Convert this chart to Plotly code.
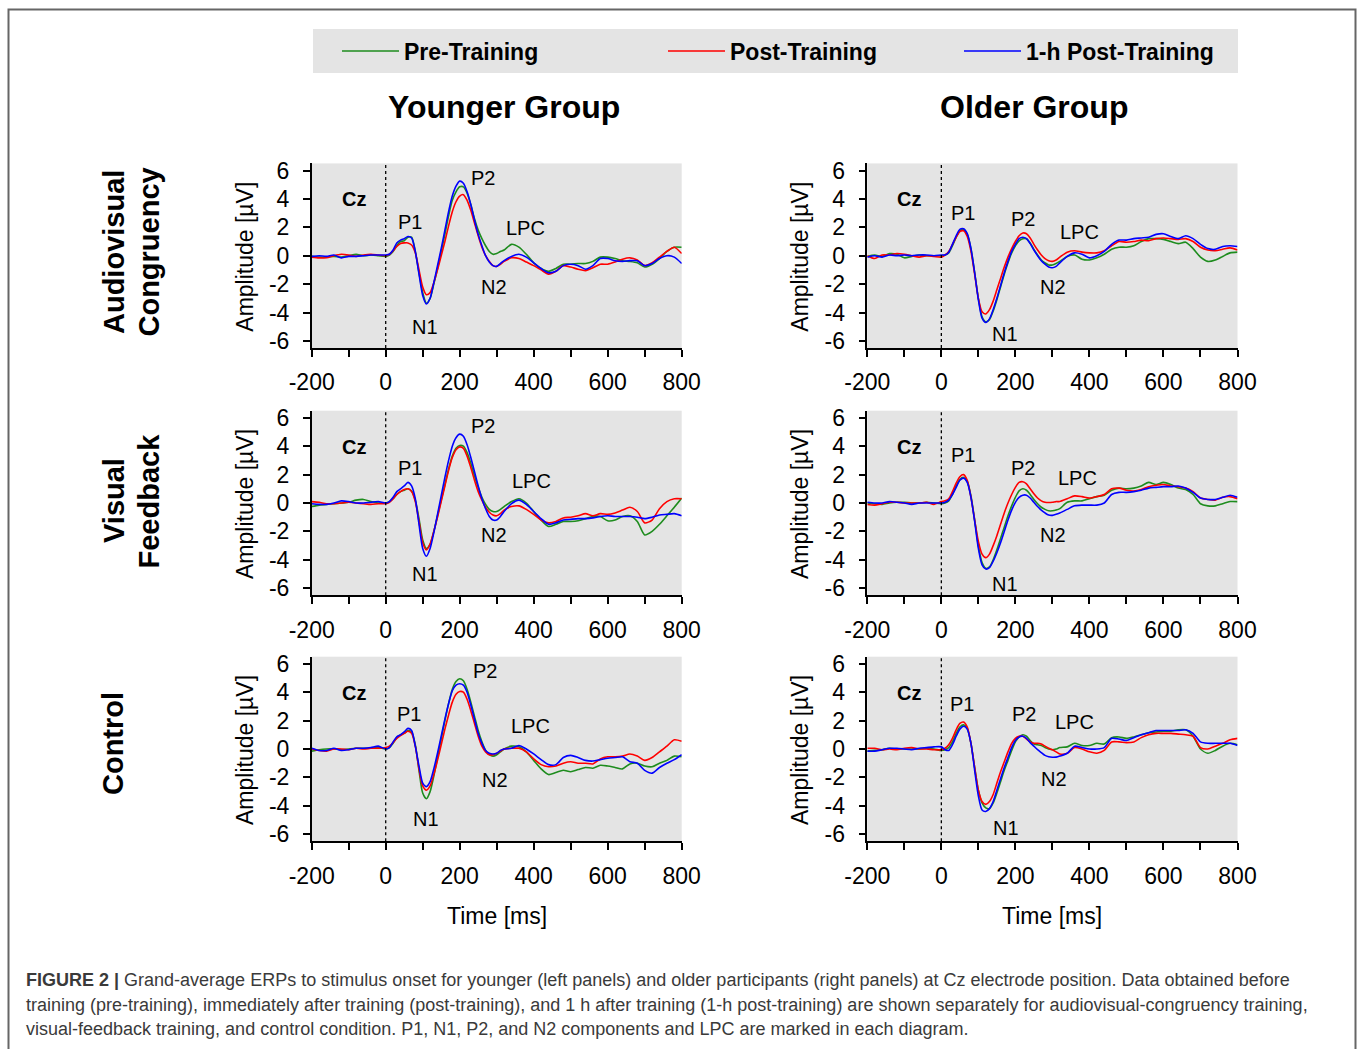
import plotly.graph_objects as go
from plotly.subplots import make_subplots

W, H = 1357, 1049
FONT = "Liberation Sans, Arial, sans-serif"

# ---------------- data ----------------
time_ms = [-200, -180, -160, -140, -120, -100, -80, -60, -40, -20,
           0, 10, 20, 30, 40, 50, 60, 70, 80, 90, 100, 110, 120, 130, 140, 150, 160,
           170, 180, 190, 200, 210, 220, 230, 240, 250, 260, 270, 280, 290, 300, 310, 320,
           340, 360, 380, 400, 420, 440, 460, 480, 500, 520, 540, 560, 580, 600, 620, 640,
           660, 680, 700, 720, 740, 760, 780, 800]

series_names = ["Pre-Training", "Post-Training", "1-h Post-Training"]
series_colors = ["#1e8c1e", "#ff0000", "#0000ff"]

younger_av_pre = [-0.05, -0.1, -0.1, -0.05, -0.1, 0.0, 0.1, 0.0, 0.05, 0.0,
                  -0.05, 0.05, 0.3, 0.7, 1.0, 1.05, 1.3, 1.3, 0.3, -1.2, -2.6, -3.35, -3.0, -2.0, -0.9, 0.3, 1.5,
                  2.8, 3.9, 4.5, 4.85, 4.85, 4.4, 3.6, 2.6, 1.8, 1.2, 0.7, 0.3, 0.1, 0.15, 0.3, 0.4,
                  0.8, 0.6, 0.1, -0.5, -0.9, -1.1, -0.9, -0.6, -0.6, -0.55, -0.55, -0.4, -0.1, -0.1, -0.2, -0.35,
                  -0.4, -0.5, -0.8, -0.6, -0.2, 0.3, 0.6, 0.6]
younger_av_post = [-0.1, -0.15, -0.15, 0.0, 0.1, 0.05, -0.05, 0.05, 0.1, 0.05,
                   0.0, 0.1, 0.35, 0.65, 0.85, 0.9, 0.9, 0.75, 0.2, -1.0, -2.2, -2.75, -2.6, -1.9, -1.0, 0.0, 1.0,
                   2.1, 3.1, 3.8, 4.2, 4.3, 3.9, 3.2, 2.3, 1.4, 0.6, 0.0, -0.4, -0.7, -0.75, -0.6, -0.4,
                   -0.15, -0.2, -0.45, -0.7, -1.0, -1.3, -1.1, -0.7, -0.8, -0.95, -1.05, -0.85, -0.6, -0.6, -0.45, -0.25,
                   -0.15, -0.3, -0.7, -0.5, -0.1, 0.3, 0.6, 0.15]
younger_av_1h = [-0.05, 0.0, -0.05, 0.05, -0.15, -0.05, -0.05, 0.0, 0.05, 0.05,
                 0.05, 0.1, 0.4, 0.9, 1.1, 1.2, 1.35, 1.25, 0.3, -1.3, -2.8, -3.4, -3.0, -1.9, -0.7, 0.5, 1.8,
                 3.1, 4.2, 4.9, 5.25, 5.1, 4.5, 3.6, 2.5, 1.5, 0.7, 0.0, -0.45, -0.7, -0.75, -0.55, -0.35,
                 -0.05, 0.1, -0.1, -0.5, -0.9, -1.2, -1.1, -0.7, -0.6, -0.7, -0.95, -0.7, -0.2, -0.2, -0.35, -0.4,
                 -0.35, -0.35, -0.7, -0.55, -0.2, 0.0, -0.1, -0.55]

older_av_pre = [-0.05, 0.05, -0.05, 0.15, 0.1, -0.15, -0.05, 0.05, 0.0, 0.0,
                0.0, 0.05, 0.2, 0.7, 1.3, 1.75, 1.85, 1.5, 0.5, -1.2, -3.0, -4.3, -4.65, -4.5, -3.9, -3.1, -2.2,
                -1.3, -0.5, 0.2, 0.7, 1.05, 1.2, 1.2, 0.9, 0.45, 0.05, -0.3, -0.5, -0.65, -0.65, -0.55, -0.4,
                -0.05, 0.05, -0.25, -0.3, -0.15, 0.1, 0.45, 0.6, 0.6, 0.7, 1.0, 1.2, 1.2, 1.15, 1.0, 0.85,
                0.95, 0.5, -0.1, -0.4, -0.3, -0.05, 0.2, 0.25]
older_av_post = [0.0, -0.2, 0.05, 0.05, 0.15, 0.1, 0.0, -0.1, 0.0, -0.05,
                 -0.1, 0.05, 0.3, 0.8, 1.3, 1.7, 1.75, 1.35, 0.3, -1.3, -3.0, -3.95, -4.1, -3.8, -3.2, -2.4, -1.6,
                 -0.8, -0.1, 0.5, 1.0, 1.4, 1.6, 1.55, 1.25, 0.8, 0.4, 0.05, -0.2, -0.35, -0.4, -0.3, -0.1,
                 0.25, 0.35, 0.25, 0.2, 0.2, 0.35, 0.7, 1.0, 0.95, 1.0, 1.1, 1.05, 1.2, 1.25, 1.2, 1.15,
                 1.2, 1.0, 0.6, 0.4, 0.35, 0.45, 0.55, 0.4]
older_av_1h = [-0.1, 0.0, -0.1, 0.05, 0.0, 0.05, 0.0, 0.05, 0.05, 0.0,
               0.05, 0.05, 0.25, 0.8, 1.4, 1.85, 1.9, 1.55, 0.5, -1.2, -3.1, -4.4, -4.7, -4.45, -3.8, -3.0, -2.1,
               -1.2, -0.4, 0.3, 0.8, 1.2, 1.3, 1.2, 0.85, 0.4, 0.0, -0.35, -0.6, -0.8, -0.85, -0.75, -0.5,
               -0.05, 0.2, 0.1, -0.15, 0.0, 0.3, 0.8, 1.1, 1.1, 1.2, 1.25, 1.3, 1.5, 1.55, 1.35, 1.2,
               1.4, 1.2, 0.8, 0.5, 0.45, 0.65, 0.7, 0.65]

younger_vf_pre = [-0.25, -0.15, -0.1, -0.05, 0.0, 0.05, 0.2, 0.25, 0.1, 0.0,
                  0.0, 0.1, 0.3, 0.6, 0.8, 0.9, 1.0, 0.85, 0.2, -1.1, -2.6, -3.2, -2.9, -2.0, -0.9, 0.2, 1.3,
                  2.4, 3.3, 3.85, 4.05, 4.0, 3.55, 2.8, 1.9, 1.1, 0.4, -0.1, -0.45, -0.6, -0.6, -0.45, -0.25,
                  0.1, 0.3, 0.0, -0.6, -1.2, -1.65, -1.5, -1.3, -1.3, -1.25, -1.1, -0.95, -0.95, -1.25, -1.2, -0.95,
                  -0.9, -1.3, -2.25, -2.0, -1.5, -0.9, -0.3, 0.35]
younger_vf_post = [0.1, 0.05, -0.05, -0.05, 0.0, 0.05, 0.0, -0.05, -0.1, -0.05,
                   -0.05, 0.05, 0.3, 0.6, 0.8, 0.95, 1.0, 0.8, 0.1, -1.3, -2.8, -3.3, -2.9, -2.0, -1.0, 0.1, 1.2,
                   2.3, 3.2, 3.75, 3.95, 3.85, 3.3, 2.5, 1.6, 0.8, 0.2, -0.3, -0.65, -0.85, -0.9, -0.75, -0.5,
                   -0.25, -0.2, -0.45, -0.8, -1.2, -1.4, -1.3, -1.05, -1.0, -0.9, -0.75, -0.9, -0.75, -0.8, -0.7, -0.5,
                   -0.3, -0.6, -1.4, -1.2, -0.4, 0.1, 0.3, 0.3]
younger_vf_1h = [-0.05, -0.1, -0.1, 0.0, 0.15, 0.1, 0.0, 0.0, 0.05, 0.1,
                 0.0, 0.1, 0.4, 0.8, 1.0, 1.2, 1.45, 1.2, 0.3, -1.5, -3.2, -3.75, -3.2, -2.1, -0.8, 0.5, 1.8,
                 3.0, 4.0, 4.6, 4.85, 4.7, 4.1, 3.2, 2.2, 1.2, 0.3, -0.4, -0.95, -1.2, -1.2, -0.95, -0.6,
                 -0.05, 0.2, -0.1, -0.6, -1.1, -1.5, -1.4, -1.2, -1.15, -1.1, -1.1, -1.05, -0.95, -0.9, -0.95, -0.95,
                 -0.95, -1.0, -1.1, -1.0, -0.85, -0.8, -0.75, -0.9]

older_vf_pre = [0.0, -0.05, -0.1, 0.0, 0.05, 0.05, 0.0, 0.0, 0.05, 0.0,
                -0.05, 0.0, 0.15, 0.6, 1.2, 1.65, 1.8, 1.5, 0.5, -1.2, -3.0, -4.2, -4.6, -4.5, -4.0, -3.3, -2.5,
                -1.7, -0.9, -0.2, 0.4, 0.85, 1.0, 0.9, 0.6, 0.25, -0.05, -0.3, -0.45, -0.55, -0.55, -0.5, -0.4,
                0.05, 0.15, 0.15, 0.3, 0.45, 0.55, 0.9, 1.05, 1.0, 1.05, 1.2, 1.45, 1.3, 1.45, 1.3, 1.05,
                0.95, 0.6, -0.05, -0.2, -0.2, -0.05, 0.1, 0.1]
older_vf_post = [-0.1, -0.15, -0.05, 0.05, 0.05, 0.0, 0.0, 0.0, 0.05, -0.1,
                 0.1, 0.15, 0.3, 0.8, 1.4, 1.85, 2.0, 1.6, 0.4, -1.2, -2.7, -3.6, -3.85, -3.6, -3.0, -2.3, -1.5,
                 -0.7, 0.0, 0.6, 1.1, 1.45, 1.5, 1.35, 1.0, 0.65, 0.35, 0.15, 0.05, 0.03, 0.05, 0.1, 0.1,
                 0.3, 0.5, 0.45, 0.35, 0.45, 0.6, 1.0, 1.05, 0.9, 0.85, 0.95, 1.15, 1.25, 1.3, 1.2, 1.15,
                 1.05, 0.8, 0.35, 0.25, 0.2, 0.4, 0.45, 0.3]
older_vf_1h = [0.05, 0.0, 0.0, 0.1, 0.05, 0.0, -0.1, 0.0, 0.0, 0.0,
               0.0, 0.05, 0.2, 0.6, 1.1, 1.6, 1.75, 1.45, 0.4, -1.3, -3.2, -4.35, -4.65, -4.55, -4.1, -3.5, -2.8,
               -2.0, -1.2, -0.5, 0.05, 0.4, 0.55, 0.55, 0.35, 0.05, -0.25, -0.5, -0.7, -0.85, -0.87, -0.8, -0.7,
               -0.45, -0.2, -0.15, -0.15, -0.15, 0.0, 0.6, 0.75, 0.75, 0.8, 0.9, 1.05, 1.1, 1.15, 1.15, 1.2,
               1.05, 0.75, 0.35, 0.25, 0.25, 0.4, 0.55, 0.4]

younger_ctrl_pre = [-0.15, -0.05, 0.0, 0.0, -0.05, 0.0, 0.05, 0.05, 0.05, 0.1,
                    0.0, 0.1, 0.4, 0.8, 1.0, 1.1, 1.3, 1.2, 0.3, -1.5, -3.1, -3.5, -3.0, -1.9, -0.6, 0.7, 2.0,
                    3.2, 4.2, 4.75, 4.95, 4.8, 4.2, 3.3, 2.3, 1.3, 0.5, -0.1, -0.4, -0.5, -0.4, -0.2, 0.0,
                    0.2, 0.15, -0.2, -0.8, -1.4, -1.8, -1.65, -1.5, -1.6, -1.45, -1.3, -1.35, -1.15, -1.2, -1.3, -1.4,
                    -1.05, -1.0, -1.2, -1.25, -1.0, -0.8, -0.5, -0.55]
younger_ctrl_post = [0.0, -0.1, -0.15, 0.0, 0.0, -0.05, 0.05, 0.0, 0.05, 0.05,
                     0.1, 0.2, 0.45, 0.75, 0.95, 1.1, 1.25, 1.1, 0.2, -1.4, -2.6, -2.9, -2.6, -1.8, -0.8, 0.3, 1.4,
                     2.4, 3.3, 3.85, 4.05, 4.0, 3.5, 2.7, 1.8, 0.9, 0.2, -0.2, -0.4, -0.4, -0.3, -0.15, 0.0,
                     0.05, 0.05, -0.2, -0.7, -1.1, -1.25, -1.2, -1.0, -0.9, -1.0, -1.0, -1.05, -0.7, -0.55, -0.55, -0.5,
                     -0.35, -0.5, -0.8, -0.6, -0.2, 0.2, 0.65, 0.55]
younger_ctrl_1h = [0.05, -0.1, -0.1, 0.05, -0.1, -0.05, 0.05, 0.05, 0.1, 0.2,
                   0.0, 0.1, 0.5, 0.85, 1.0, 1.2, 1.45, 1.3, 0.2, -1.2, -2.4, -2.65, -2.3, -1.4, -0.3, 0.9, 2.1,
                   3.2, 4.1, 4.5, 4.6, 4.5, 4.0, 3.1, 2.1, 1.1, 0.4, -0.1, -0.3, -0.35, -0.3, -0.1, 0.0,
                   0.05, 0.25, 0.0, -0.35, -0.75, -1.1, -1.1, -0.6, -0.45, -0.6, -0.8, -0.85, -0.75, -0.65, -0.6, -0.55,
                   -0.9, -1.0, -1.5, -1.7, -1.3, -1.0, -0.75, -0.4]

older_ctrl_pre = [-0.15, -0.1, -0.05, 0.05, 0.0, 0.0, 0.0, 0.0, 0.05, 0.0,
                  -0.1, -0.05, 0.1, 0.5, 1.1, 1.55, 1.7, 1.45, 0.4, -1.3, -2.9, -3.8, -4.15, -4.2, -3.8, -3.1, -2.3,
                  -1.5, -0.8, -0.1, 0.5, 0.85, 1.0, 0.9, 0.6, 0.35, 0.3, 0.25, 0.1, 0.0, -0.05, 0.0, 0.1,
                  0.15, 0.4, 0.25, 0.25, 0.4, 0.35, 0.8, 0.85, 0.75, 0.85, 1.0, 1.15, 1.2, 1.25, 1.25, 1.35,
                  1.35, 0.9, 0.0, -0.3, -0.1, 0.2, 0.4, 0.3]
older_ctrl_post = [0.05, 0.05, -0.05, 0.0, -0.05, 0.05, 0.1, 0.0, 0.0, -0.05,
                   -0.05, 0.05, 0.3, 0.75, 1.35, 1.8, 1.9, 1.55, 0.4, -1.3, -2.9, -3.7, -3.9, -3.7, -3.2, -2.4, -1.6,
                   -0.9, -0.2, 0.4, 0.75, 0.9, 0.9, 0.7, 0.5, 0.4, 0.4, 0.35, 0.2, 0.05, -0.05, -0.2, -0.35,
                   -0.3, 0.1, 0.0, -0.2, -0.3, -0.1, 0.5, 0.5, 0.45, 0.5, 0.8, 1.0, 1.1, 1.1, 1.1, 1.05,
                   1.0, 0.9, 0.1, 0.0, 0.2, 0.4, 0.65, 0.75]
older_ctrl_1h = [-0.15, -0.15, -0.05, 0.05, 0.05, 0.0, -0.05, 0.05, 0.1, 0.15,
                 0.15, -0.05, -0.1, 0.3, 0.9, 1.4, 1.6, 1.4, 0.4, -1.5, -3.3, -4.3, -4.4, -4.2, -3.7, -2.9, -2.1,
                 -1.3, -0.6, 0.1, 0.6, 0.85, 0.9, 0.75, 0.45, 0.2, -0.05, -0.25, -0.45, -0.55, -0.58, -0.57, -0.5,
                 -0.3, 0.2, 0.1, 0.0, 0.0, 0.1, 0.75, 0.7, 0.6, 0.8, 1.0, 1.15, 1.3, 1.3, 1.3, 1.3,
                 1.35, 1.1, 0.5, 0.4, 0.4, 0.4, 0.4, 0.25]

x_tick_values = [-200, -100, 0, 100, 200, 300, 400, 500, 600, 700, 800]
x_tick_labels = ["-200", "", "0", "", "200", "", "400", "", "600", "", "800"]
y_tick_values = [-6, -4, -2, 0, 2, 4, 6]
y_tick_labels = ["-6", "-4", "-2", "0", "2", "4", "6"]

column_titles = ["Younger Group", "Older Group"]
row_titles = [["Audiovisual", "Congruency"], ["Visual", "Feedback"], ["Control"]]

# component label positions (time ms, amplitude µV) per panel
component_labels = {
    (1, 1): [("P1", 66, 2.4), ("N1", 106, -5.0), ("P2", 264, 5.45), ("LPC", 377, 1.93), ("N2", 293, -2.18)],
    (1, 2): [("P1", 59, 3.0), ("N1", 171, -5.54), ("P2", 221, 2.56), ("LPC", 373, 1.69), ("N2", 301, -2.18)],
    (2, 1): [("P1", 66, 2.46), ("N1", 106, -4.99), ("P2", 264, 5.41), ("LPC", 395, 1.56), ("N2", 293, -2.27)],
    (2, 2): [("P1", 58, 3.38), ("N1", 171, -5.67), ("P2", 221, 2.44), ("LPC", 367, 1.73), ("N2", 301, -2.22)],
    (3, 1): [("P1", 63, 2.48), ("N1", 109, -4.94), ("P2", 268, 5.5), ("LPC", 390, 1.6), ("N2", 295, -2.18)],
    (3, 2): [("P1", 57, 3.19), ("N1", 174, -5.55), ("P2", 223, 2.48), ("LPC", 360, 1.91), ("N2", 303, -2.13)],
}
electrode_label = ("Cz", -87, 3.97)

panels = {
    (1, 1): [younger_av_pre, younger_av_post, younger_av_1h],
    (1, 2): [older_av_pre, older_av_post, older_av_1h],
    (2, 1): [younger_vf_pre, younger_vf_post, younger_vf_1h],
    (2, 2): [older_vf_pre, older_vf_post, older_vf_1h],
    (3, 1): [younger_ctrl_pre, younger_ctrl_post, younger_ctrl_1h],
    (3, 2): [older_ctrl_pre, older_ctrl_post, older_ctrl_1h],
}

caption_lines = [
    "<b>FIGURE 2 |</b> Grand-average ERPs to stimulus onset for younger (left panels) and older participants (right panels) at Cz electrode position. Data obtained before",
    "training (pre-training), immediately after training (post-training), and 1 h after training (1-h post-training) are shown separately for audiovisual-congruency training,",
    "visual-feedback training, and control condition. P1, N1, P2, and N2 components and LPC are marked in each diagram.",
]

# ---------------- layout helpers (pixels -> paper) ----------------
def px(x):
    return x / W


def py(y):
    return 1 - y / H


col_px = {1: (311.7, 681.7), 2: (867.3, 1237.5)}
row_px = {1: (163.4, 348.0), 2: (410.7, 595.3), 3: (656.7, 841.3)}
legend_ids = ["legend", "legend2", "legend3"]
legend_x_px = [337, 663, 959]

fig = make_subplots(rows=3, cols=2)

for (r, c), ys in panels.items():
    for i, (name, color, vals) in enumerate(zip(series_names, series_colors, ys)):
        fig.add_trace(
            go.Scatter(
                x=time_ms, y=vals, mode="lines", name=name,
                line=dict(color=color, width=1.6, shape="spline", smoothing=0.7),
                legendgroup=name, legend=legend_ids[i], showlegend=(r == 1 and c == 1),
            ),
            row=r, col=c,
        )
    fig.add_vline(x=0, line=dict(color="black", width=1.3, dash="dot"), row=r, col=c)
    for lab, tx, ty in component_labels[(r, c)]:
        fig.add_annotation(x=tx, y=ty, text=lab, showarrow=False, row=r, col=c,
                           font=dict(size=20, color="black", family=FONT))
    fig.add_annotation(x=electrode_label[1], y=electrode_label[2], text="<b>%s</b>" % electrode_label[0],
                       showarrow=False, row=r, col=c, font=dict(size=20, color="black", family=FONT))

axis_common = dict(showline=True, linecolor="black", linewidth=1.5, ticks="outside", ticklen=7,
                   tickwidth=1.5, tickcolor="black", showgrid=False, zeroline=False, mirror=False,
                   automargin=False, tickfont=dict(size=23, color="black", family=FONT))

for r in (1, 2, 3):
    for c in (1, 2):
        fig.update_xaxes(domain=[px(col_px[c][0]), px(col_px[c][1])], range=[-200, 800],
                         tickmode="array", tickvals=x_tick_values, ticktext=x_tick_labels,
                         ticklabelstandoff=6, row=r, col=c, **axis_common)
        fig.update_yaxes(domain=[py(row_px[r][1]), py(row_px[r][0])], range=[-6.5, 6.5],
                         tickmode="array", tickvals=y_tick_values, ticktext=y_tick_labels,
                         ticklabelstandoff=9, row=r, col=c, **axis_common)

annotations = []
# column titles
for cx, title in zip((504, 1034), column_titles):
    annotations.append(dict(x=px(cx), y=py(107), xref="paper", yref="paper",
                            text="<b>%s</b>" % title, showarrow=False, xanchor="center", yanchor="middle",
                            font=dict(size=32, color="black", family=FONT)))
# row titles (one annotation per text line)
row_title_pos = [([114, 148.5], 252), ([114, 148.5], 501), ([113], 744)]
for (xs, ry), lines in zip(row_title_pos, row_titles):
    for rx, line in zip(xs, lines):
        annotations.append(dict(x=px(rx), y=py(ry), xref="paper", yref="paper", text="<b>%s</b>" % line,
                                showarrow=False, textangle=-90, xanchor="center", yanchor="middle",
                                font=dict(size=29, color="black", family=FONT)))
# y-axis titles
for r in (1, 2, 3):
    for c, xo in ((1, 245), (2, 800)):
        annotations.append(dict(x=px(xo), y=py((row_px[r][0] + row_px[r][1]) / 2 + 1), xref="paper", yref="paper",
                                text="Amplitude [µV]", showarrow=False, textangle=-90,
                                xanchor="center", yanchor="middle",
                                font=dict(size=23, color="black", family=FONT)))
# x-axis titles
for c in (1, 2):
    annotations.append(dict(x=px((col_px[c][0] + col_px[c][1]) / 2), y=py(916), xref="paper", yref="paper",
                            text="Time [ms]", showarrow=False, xanchor="center", yanchor="middle",
                            font=dict(size=23, color="black", family=FONT)))
# caption
for i, line in enumerate(caption_lines):
    annotations.append(dict(x=px(24), y=py(980 + 24.5 * i), xref="paper", yref="paper", text=line,
                            showarrow=False, xanchor="left", yanchor="middle",
                            font=dict(size=18, color="#3a3a3a", family=FONT)))

for a in annotations:
    fig.add_annotation(**a)

shapes = [
    # figure border
    dict(type="rect", xref="paper", yref="paper", x0=px(8.5), x1=px(1355.5), y0=py(1065), y1=py(9.5),
         line=dict(color="#666666", width=2), fillcolor="rgba(0,0,0,0)", layer="below"),
    # legend box
    dict(type="rect", xref="paper", yref="paper", x0=px(313), x1=px(1238), y0=py(73), y1=py(29),
         line=dict(width=0), fillcolor="#e4e4e4", layer="below"),
]
for s in shapes:
    fig.add_shape(**s)

legend_style = dict(orientation="h", y=py(51), xanchor="left", yanchor="middle",
                    bgcolor="rgba(0,0,0,0)", itemwidth=57,
                    font=dict(size=23, color="black", family=FONT, weight="bold"))

fig.update_layout(
    width=W, height=H,
    margin=dict(l=0, r=0, t=0, b=0),
    paper_bgcolor="white",
    plot_bgcolor="#e4e4e4",
    font=dict(family=FONT, color="black"),
    showlegend=True,
    legend=dict(x=px(legend_x_px[0]), **legend_style),
    legend2=dict(x=px(legend_x_px[1]), **legend_style),
    legend3=dict(x=px(legend_x_px[2]), **legend_style),
)

fig.write_html("out.html", config={"displayModeBar": False},
               post_script="document.body.style.margin='0';")
